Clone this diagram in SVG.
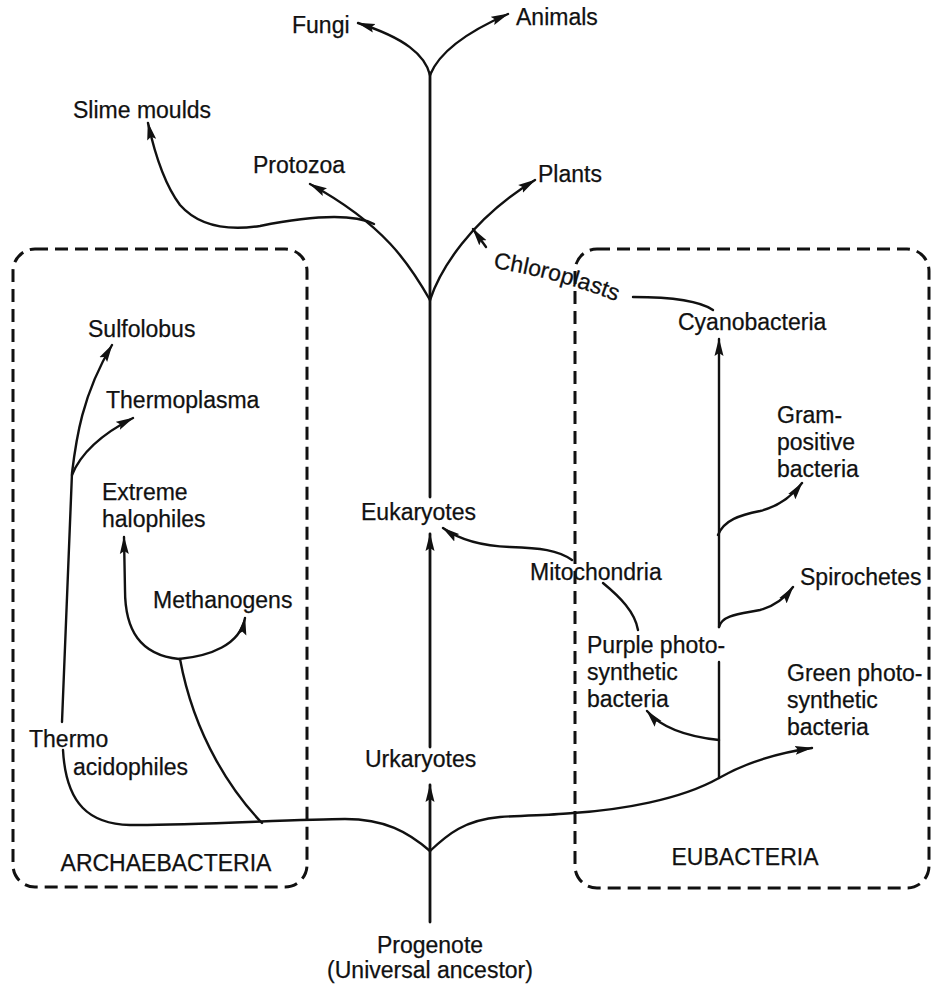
<svg xmlns="http://www.w3.org/2000/svg" width="933" height="986" viewBox="0 0 933 986">
<style>
text{font-family:"Liberation Sans",Arial,sans-serif;font-size:23px;fill:#111;stroke:#111;stroke-width:0.25}
.c{text-anchor:middle}
.ln{fill:none;stroke:#111;stroke-width:2.4;stroke-linecap:round}
.tr{stroke-width:2.8}
.box{fill:none;stroke:#111;stroke-width:3;stroke-dasharray:13 7}
</style>
<defs>
<marker id="ah" viewBox="0 0 18 10" refX="17" refY="5" markerWidth="18" markerHeight="10" markerUnits="userSpaceOnUse" orient="auto">
<path d="M0,0.5 L18,5 L0,9.5 L3,5 z" fill="#111"/>
</marker>
<path id="chlpath" d="M493,268 Q560,278 628,306"/>
</defs>
<g id="boxes">
<rect class="box" x="13" y="249" width="294" height="638" rx="22"/>
<rect class="box" x="575" y="249" width="354" height="639" rx="22"/>
</g>
<g id="connectors">
<path class="ln tr" d="M430,922 L430,785" marker-end="url(#ah)"/>
<path class="ln tr" d="M430,747 L430,534" marker-end="url(#ah)"/>
<path class="ln tr" d="M430,497 L430,73"/>
<path class="ln" d="M430,75 C425,55 405,38 358,23" marker-end="url(#ah)"/>
<path class="ln" d="M430,75 C438,55 460,35 508,14" marker-end="url(#ah)"/>
<path class="ln" d="M430,300 C410,265 385,225 310,184" marker-end="url(#ah)"/>
<path class="ln" d="M374,224 C350,212 300,218 260,226 C220,232 195,222 180,205 C165,185 155,155 148,123" marker-end="url(#ah)"/>
<path class="ln" d="M430,300 C440,270 470,220 535,180" marker-end="url(#ah)"/>
<path class="ln" d="M486,247 L473,229" marker-end="url(#ah)"/>
<path class="ln" d="M633,297 C670,297 700,301 713,310"/>
<path class="ln" d="M430,851 C408,832 385,819 345,819 C300,819 180,826 130,825 C90,824 66,805 63,750"/>
<path class="ln" d="M62,722 L72,473 C76,440 82,395 112,345" marker-end="url(#ah)"/>
<path class="ln" d="M72,475 C80,455 100,435 133,418" marker-end="url(#ah)"/>
<path class="ln" d="M262,823 C235,795 195,740 180,659"/>
<path class="ln" d="M179,659 C140,655 125,630 125,590 L124,537" marker-end="url(#ah)"/>
<path class="ln" d="M179,659 C210,656 240,645 245,618" marker-end="url(#ah)"/>
<path class="ln" d="M430,851 C448,834 465,820 500,817 C530,815 555,815 573,813 C620,810 680,800 719,778 C740,766 770,754 812,748" marker-end="url(#ah)"/>
<path class="ln" d="M719,778 L719,662"/>
<path class="ln" d="M719,627 L719,339" marker-end="url(#ah)"/>
<path class="ln" d="M719,740 C700,738 665,732 647,711" marker-end="url(#ah)"/>
<path class="ln" d="M719,627 C722,615 740,614 760,610 C775,606 785,598 793,587" marker-end="url(#ah)"/>
<path class="ln" d="M718,535 C724,520 740,515 760,511 C780,506 793,495 802,483" marker-end="url(#ah)"/>
<path class="ln" d="M572,560 C558,550 540,548 510,547 C480,546 460,540 443,528" marker-end="url(#ah)"/>
<path class="ln" d="M603,583 C620,597 635,612 638,630"/>
</g>
<g id="fungi"><text x="292" y="33">Fungi</text></g>
<g id="animals"><text x="516" y="25">Animals</text></g>
<g id="slime-moulds"><text x="73" y="118">Slime moulds</text></g>
<g id="protozoa"><text x="253" y="173">Protozoa</text></g>
<g id="plants"><text x="538" y="182">Plants</text></g>
<g id="chloroplasts"><text><textPath href="#chlpath">Chloroplasts</textPath></text></g>
<g id="cyanobacteria"><text x="678" y="330">Cyanobacteria</text></g>
<g id="sulfolobus"><text x="88" y="337">Sulfolobus</text></g>
<g id="thermoplasma"><text x="106" y="408">Thermoplasma</text></g>
<g id="extreme-halophiles"><text x="102" y="500">Extreme</text><text x="102" y="527">halophiles</text></g>
<g id="gram-positive"><text x="777" y="423">Gram-</text><text x="777" y="450">positive</text><text x="777" y="477">bacteria</text></g>
<g id="eukaryotes"><text x="361" y="520">Eukaryotes</text></g>
<g id="mitochondria"><text x="530" y="580">Mitochondria</text></g>
<g id="spirochetes"><text x="800" y="585">Spirochetes</text></g>
<g id="methanogens"><text x="153" y="608">Methanogens</text></g>
<g id="purple"><text x="587" y="653">Purple photo-</text><text x="587" y="680">synthetic</text><text x="587" y="707">bacteria</text></g>
<g id="green"><text x="787" y="681">Green photo-</text><text x="787" y="708">synthetic</text><text x="787" y="735">bacteria</text></g>
<g id="thermoacidophiles"><text x="29" y="747">Thermo</text><text x="73" y="775">acidophiles</text></g>
<g id="urkaryotes"><text x="365" y="767">Urkaryotes</text></g>
<g id="archaebacteria"><text class="c" x="166" y="871">ARCHAEBACTERIA</text></g>
<g id="eubacteria"><text class="c" x="745" y="865">EUBACTERIA</text></g>
<g id="progenote"><text class="c" x="430" y="953">Progenote</text><text class="c" x="430" y="978">(Universal ancestor)</text></g>
</svg>
